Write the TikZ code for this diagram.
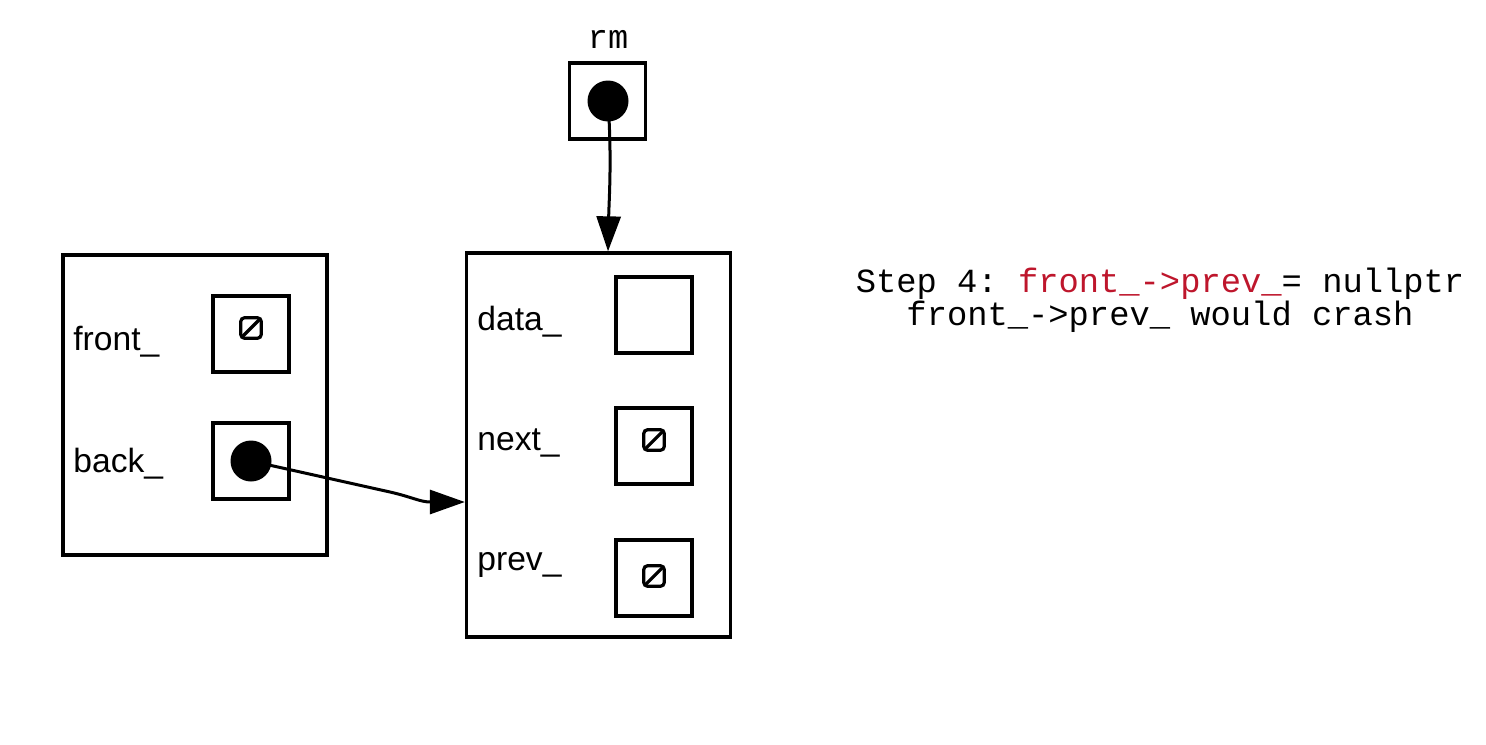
\documentclass[tikz,border=0pt]{standalone}
\usepackage{fontspec}
\setmainfont{Liberation Sans}
\newfontfamily\monofont{Liberation Mono}
\usetikzlibrary{arrows.meta}
\definecolor{hl}{RGB}{190,22,44}
\tikzset{
  outerbox/.style={draw, line width=1.65pt, minimum width=132pt, inner sep=0pt},
  cellbox/.style={draw, line width=1.65pt, minimum size=38pt, inner sep=0pt},
  fieldlabel/.style={anchor=west, inner sep=0pt, font=\fontsize{16.8pt}{18pt}\selectfont},
  dotmark/.style={circle, fill=black, minimum size=20.5pt, inner sep=0pt},
  nullmark/.style={draw, line width=1.6pt, rounded corners=1.8pt, minimum size=10.2pt, inner sep=0pt, path picture={\draw[line width=1.6pt] (path picture bounding box.south west) -- (path picture bounding box.north east);}},
  ptr/.style={line width=1.5pt, -{Triangle[length=17.5pt, width=12pt]}},
}
\begin{document}
\begin{tikzpicture}[x=0.5pt, y=-0.5pt]
\useasboundingbox (0,0) rectangle (1486,744);
% left list box
\node[outerbox, minimum height=150pt] (list) at (195,405) {};
\node[fieldlabel] (frontlbl) at (73,342) {front\_};
\node[fieldlabel] (backlbl) at (73,464) {back\_};
\node[cellbox] (frontcell) at (251,334) {};
\node[nullmark] (frontnull) at (251,328) {};
\node[cellbox] (backcell) at (251,461) {};
\node[dotmark] (backdot) at (251,461) {};
% node box
\node[outerbox, minimum height=192pt] (nodebox) at (598.5,445) {};
\node[fieldlabel] (datalbl) at (477,322) {data\_};
\node[fieldlabel] (nextlbl) at (477,443) {next\_};
\node[fieldlabel] (prevlbl) at (477,565) {prev\_};
\node[cellbox] (datacell) at (654,315) {};
\node[cellbox] (nextcell) at (654,446) {};
\node[nullmark] (nextnull) at (654,440) {};
\node[cellbox] (prevcell) at (654,578) {};
\node[nullmark] (prevnull) at (654,576) {};
% rm
\node[font=\monofont\fontsize{16.8pt}{18pt}\selectfont, inner sep=0pt] (rmlbl) at (608,39) {rm};
\node[cellbox] (rmcell) at (607.5,101) {};
\node[dotmark] (rmdot) at (608,101) {};
% connectors
\coordinate (rmtip) at (nodebox.north -| rmdot);
\draw[ptr] (rmdot.center) .. controls (612,160) and (609,200) .. (rmtip);
\coordinate (backtip) at (nodebox.west |- 0,502);
\draw[ptr] (backdot.center) -- (390,492) .. controls (412,497) and (420,502) .. (backtip);
% caption
\node[font=\monofont\fontsize{16.9pt}{16.3pt}\selectfont\frenchspacing, align=center, inner sep=0pt] (caption) at (1160,300)
  {Step 4: \textcolor{hl}{front\_->prev\_}= nullptr\\front\_->prev\_ would crash};
\end{tikzpicture}
\end{document}
